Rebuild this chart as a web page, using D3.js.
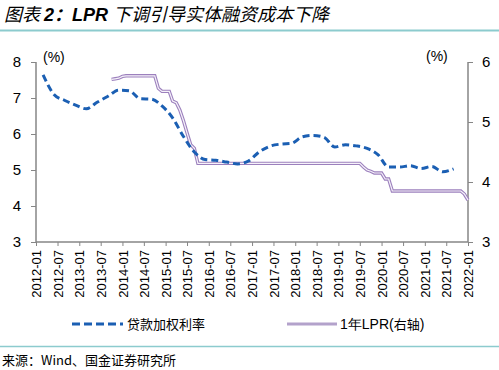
<!DOCTYPE html>
<html>
<head>
<meta charset="utf-8">
<script src="https://cdn.jsdelivr.net/npm/d3@7"></script>
<style>
  body { margin: 0; background: #fff; }
  text { font-family: "Liberation Sans", Arial, sans-serif; }
  .cjk { font-family: "Noto Sans CJK SC", sans-serif; }
</style>
</head>
<body>
<div id="grafiek"></div>
<script>
//贷款加权利率 (左轴), 季度
var rateDates = ["2012-03","2012-06","2012-09","2012-12","2013-03","2013-06","2013-09","2013-12",
                 "2014-03","2014-06","2014-09","2014-12","2015-03","2015-06","2015-09","2015-12",
                 "2016-03","2016-06","2016-09","2016-12","2017-03","2017-06","2017-09","2017-12",
                 "2018-03","2018-06","2018-09","2018-12","2019-03","2019-06","2019-09","2019-12",
                 "2020-03","2020-06","2020-09","2020-12","2021-03","2021-06","2021-09"];
var rateValues = [7.64, 7.10, 6.93, 6.80, 6.70, 6.88, 7.05, 7.22,
                  7.20, 6.98, 6.97, 6.78, 6.45, 5.93, 5.50, 5.29,
                  5.27, 5.22, 5.17, 5.25, 5.50, 5.66, 5.72, 5.74,
                  5.92, 5.96, 5.91, 5.64, 5.70, 5.67, 5.60, 5.43,
                  5.08, 5.08, 5.12, 5.04, 5.10, 4.95, 5.03];

// 1年LPR (右轴), 月度
var lprDates = ["2013-10","2013-11","2013-12","2014-01","2014-02","2014-10","2014-11","2014-12",
                "2015-02","2015-03","2015-04","2015-05","2015-06","2015-07","2015-08","2015-09",
                "2015-10","2019-07","2019-08","2019-09","2019-10","2019-11","2020-01","2020-02",
                "2020-03","2020-04","2021-11","2021-12","2022-01"];
var lprValues = [5.71, 5.72, 5.73, 5.76, 5.77, 5.77, 5.56, 5.51,
                 5.51, 5.35, 5.32, 5.20, 5.02, 4.82, 4.62, 4.56,
                 4.31, 4.31, 4.25, 4.20, 4.18, 4.15, 4.15, 4.05,
                 4.05, 3.85, 3.85, 3.80, 3.70];

var tickLabels = ["2012-01","2012-07","2013-01","2013-07","2014-01","2014-07","2015-01","2015-07",
                  "2016-01","2016-07","2017-01","2017-07","2018-01","2018-07","2019-01","2019-07",
                  "2020-01","2020-07","2021-01","2021-07","2022-01"];
var linksTicks = [3, 4, 5, 6, 7, 8];
var rechtsTicks = [3, 4, 5, 6];

var breedte = 499, hoogte = 370;
var marge = {boven: 62, beneden: 242, links: 36, rechts: 468};
var blauw = "#1b5fb3", paars = "#9c80bd", asKleur = "#868686", lijnKleur = "#8ccbce";

var parse = d3.timeParse("%Y-%m");

var svg = d3.select("#grafiek").append("svg")
            .attr("width", breedte)
            .attr("height", hoogte);

// titel
var titel = svg.append("text")
               .attr("x", 4)
               .attr("y", 21)
               .attr("font-size", "18px")
               .attr("font-style", "italic");
titel.append("tspan").attr("class", "cjk").text("图表 ");
titel.append("tspan").attr("font-weight", "bold").text("2");
titel.append("tspan").attr("class", "cjk").attr("font-weight", "bold").text("：");
titel.append("tspan").attr("font-weight", "bold").text("LPR ");
titel.append("tspan").attr("class", "cjk").text("下调引导实体融资成本下降");

// scheidingslijnen
svg.append("line").attr("x1", 0).attr("x2", breedte).attr("y1", 30.5).attr("y2", 30.5)
   .attr("stroke", lijnKleur).attr("stroke-width", 2);
svg.append("line").attr("x1", 0).attr("x2", breedte).attr("y1", 346.5).attr("y2", 346.5)
   .attr("stroke", lijnKleur).attr("stroke-width", 1.5);

// schalen
var x = d3.scaleTime()
          .domain([parse("2012-01"), parse("2022-01")])
          .range([marge.links, marge.rechts]);
var yL = d3.scaleLinear().domain([3, 8]).range([marge.beneden, marge.boven]);
var yR = d3.scaleLinear().domain([3, 6]).range([marge.beneden, marge.boven]);

// x-as
var asX = d3.axisBottom(x)
            .tickValues(tickLabels.map(parse))
            .tickFormat(d3.timeFormat("%Y-%m"))
            .tickSize(4)
            .tickPadding(4);
var gX = svg.append("g")
            .attr("transform", "translate(0," + marge.beneden + ")")
            .call(asX);
gX.selectAll("text")
  .attr("font-size", "13px")
  .attr("fill", "#000")
  .attr("transform", "rotate(-90)")
  .attr("text-anchor", "end")
  .attr("x", -8)
  .attr("y", 0)
  .attr("dy", "0.35em");

// linker y-as
var gL = svg.append("g")
            .attr("transform", "translate(" + marge.links + ",0)")
            .call(d3.axisLeft(yL).tickValues(linksTicks).tickFormat(d3.format("d"))
                    .tickSize(5).tickPadding(10));
gL.selectAll("text").attr("font-size", "15px").attr("fill", "#000");

// rechter y-as
var gR = svg.append("g")
            .attr("transform", "translate(" + marge.rechts + ",0)")
            .call(d3.axisRight(yR).tickValues(rechtsTicks).tickFormat(d3.format("d"))
                    .tickSize(5).tickPadding(9));
gR.selectAll("text").attr("font-size", "15px").attr("fill", "#000");

[gX, gL, gR].forEach(function(g) {
  g.select(".domain").attr("stroke", asKleur).attr("stroke-width", 1.5);
  g.selectAll(".tick line").attr("stroke", asKleur);
  g.attr("font-family", null);
});
gX.select(".domain").attr("d", "M" + marge.links + ",0H" + marge.rechts);
gL.select(".domain").attr("d", "M0," + marge.beneden + "V" + marge.boven);
gR.select(".domain").attr("d", "M0," + marge.beneden + "V" + marge.boven);

// (%) labels
svg.append("text").attr("x", 43).attr("y", 62)
   .attr("font-family", "Liberation Serif, serif").attr("font-size", "14px").text("(%)");
svg.append("text").attr("x", 426).attr("y", 61)
   .attr("font-family", "Liberation Serif, serif").attr("font-size", "14px").text("(%)");

// LPR lijn (dubbele lijn)
var rente = rateDates.map(function(d, i) { return {datum: parse(d), waarde: rateValues[i]}; });
var lpr = lprDates.map(function(d, i) { return {datum: parse(d), waarde: lprValues[i]}; });

var lijnLpr = d3.line()
                .x(function(d) { return x(d.datum); })
                .y(function(d) { return yR(d.waarde); });
svg.append("path").datum(lpr).attr("d", lijnLpr)
   .attr("fill", "none").attr("stroke", paars).attr("stroke-width", 3.4);
svg.append("path").datum(lpr).attr("d", lijnLpr)
   .attr("fill", "none").attr("stroke", "#f6f2fa").attr("stroke-width", 1.2);

// gewogen rente lijn
var lijnRente = d3.line()
                  .curve(d3.curveMonotoneX)
                  .x(function(d) { return x(d.datum); })
                  .y(function(d) { return yL(d.waarde); });
svg.append("path").datum(rente).attr("d", lijnRente)
   .attr("fill", "none").attr("stroke", blauw).attr("stroke-width", 3)
   .attr("stroke-dasharray", "7,4");

// legenda
svg.append("line").attr("x1", 72).attr("x2", 123).attr("y1", 324).attr("y2", 324)
   .attr("stroke", blauw).attr("stroke-width", 3).attr("stroke-dasharray", "8,4");
svg.append("text").attr("class", "cjk").attr("x", 127).attr("y", 329)
   .attr("font-size", "13px").text("贷款加权利率");
svg.append("line").attr("x1", 287).attr("x2", 337).attr("y1", 324).attr("y2", 324)
   .attr("stroke", "#b3a2cb").attr("stroke-width", 3);
var leg2 = svg.append("text").attr("x", 340).attr("y", 329).attr("font-size", "14px");
leg2.append("tspan").text("1年LPR(");
leg2.append("tspan").attr("class", "cjk").attr("font-size", "13px").text("右轴");
leg2.append("tspan").text(")");

// bron
svg.append("text").attr("class", "cjk").attr("x", 2).attr("y", 365)
   .attr("font-size", "13px").text("来源：Wind、国金证券研究所");
</script>
</body>
</html>
